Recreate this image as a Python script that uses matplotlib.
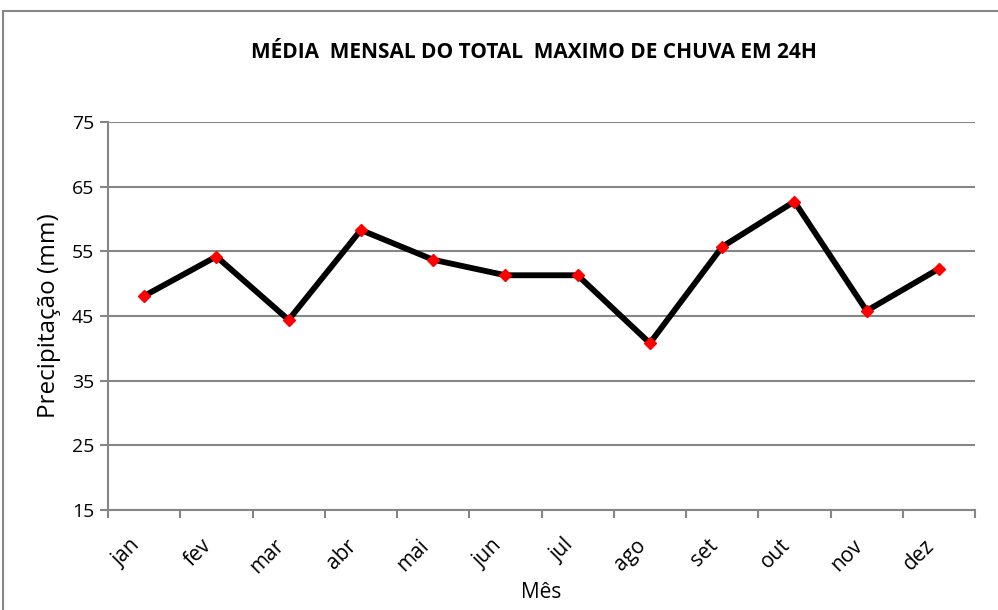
import matplotlib.pyplot as plt
import matplotlib.transforms as mtransforms
from matplotlib.patches import Rectangle

meses = ['jan', 'fev', 'mar', 'abr', 'mai', 'jun', 'jul', 'ago', 'set', 'out', 'nov', 'dez']
chuva = [48.1, 54.2, 44.4, 58.3, 53.7, 51.3, 51.3, 40.8, 55.7, 62.7, 45.8, 52.3]
yticks = [15, 25, 35, 45, 55, 65, 75]

plt.rcParams['font.family'] = ['Open Sans', 'DejaVu Sans']

fig = plt.figure(figsize=(9.98, 6.10), dpi=100)
ax = fig.add_axes([108/998, 1 - 510/610, (975 - 108)/998, (510 - 122)/610])

# outer chart frame (right and bottom edges fall outside the image)
fig.patches.append(Rectangle((3/998, -0.05), 1.2, 1 - 11/610 + 0.05,
                             transform=fig.transFigure, fill=False,
                             edgecolor='#868686', linewidth=1.5))

x = range(len(meses))
ax.plot(x, chuva, color='black', linewidth=4.2, marker='D', markersize=6.5,
        markerfacecolor='red', markeredgecolor='red', zorder=3)

ax.set_xlim(-0.5, len(meses) - 0.5)
ax.set_ylim(15, 75)
ax.set_yticks(yticks)
ax.set_xticks(list(x))
ax.set_xticklabels(meses, rotation=45, ha='right', fontsize=15)
shift = mtransforms.ScaledTranslation(9/100, 0, fig.dpi_scale_trans)
for lbl in ax.get_xticklabels():
    lbl.set_transform(lbl.get_transform() + shift)
ax.set_xticks([i - 0.5 for i in range(len(meses) + 1)], minor=True)
ax.tick_params(axis='x', which='major', length=0, pad=18)
ax.tick_params(axis='x', which='minor', length=6, width=1.5, color='#868686')
ax.tick_params(axis='y', length=6, width=1.5, color='#868686', labelsize=14, pad=4)

ax.grid(axis='y', color='#868686', linewidth=1.5)
ax.set_axisbelow(True)
for s in ['top', 'right']:
    ax.spines[s].set_visible(False)
for s in ['left', 'bottom']:
    ax.spines[s].set_color('#868686')
    ax.spines[s].set_linewidth(1.5)

ax.set_ylabel('Precipitação (mm)', fontsize=17.5, labelpad=8)
ax.set_xlabel('Mês', fontsize=15, labelpad=3)
fig.text(534/998, 1 - 53/610, 'MÉDIA  MENSAL DO TOTAL  MAXIMO DE CHUVA EM 24H',
         ha='center', va='center', fontsize=15, fontweight='bold')

fig.savefig('out.png', dpi=100)
